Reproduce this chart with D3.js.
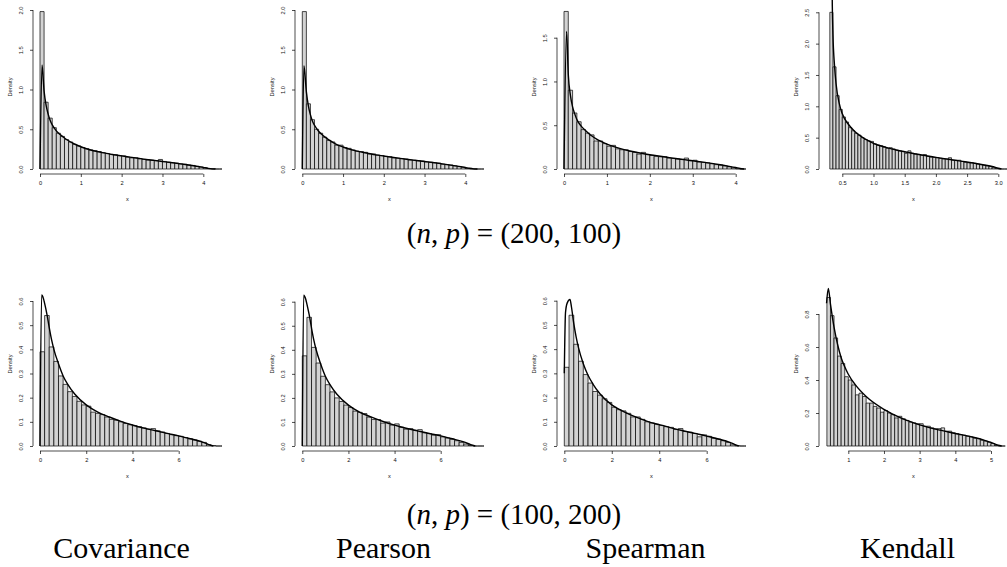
<!DOCTYPE html>
<html>
<head>
<meta charset="utf-8">
<script src="https://cdn.jsdelivr.net/npm/d3@7"></script>
<style>
  body { margin: 0; background: #fff; }
  svg { display: block; }
  .axis text, .axis-title { font-family: "Liberation Sans", Arial, sans-serif; font-size: 5.7px; fill: #111; }
  .title { font-family: "Liberation Serif", "Times New Roman", serif; fill: #000; }
</style>
</head>
<body>
<div id="chart"></div>
<script>
// ---- histogram heights (density) ----
// top row: (n,p) = (200,100)
const covTopStart = 0, covTopWidth = 0.1;
const covTopHeights = [1.98,0.84,0.64,0.52,0.45,0.41,0.37,0.34,0.31,0.29,0.27,0.255,0.24,0.23,0.22,0.205,0.195,0.185,0.18,0.17,
  0.165,0.15,0.14,0.14,0.13,0.12,0.115,0.11,0.105,0.12,0.095,0.085,0.08,0.075,0.065,0.06,0.05,0.045,0.035,0.025,
  0.015,0.005,0.002,0,0];
const covTopCurveX = [0,0.05,0.1,0.15,0.2,0.25,0.3,0.4,0.5,0.6,0.7,0.8,1.0,1.2,1.4,1.6,1.8,2.0,2.2,2.4,2.6,2.8,3.0,3.2,3.4,3.6,3.8,4.0,4.1,4.2,4.3];
const covTopCurveY = [0,1.31,0.98,0.8,0.69,0.61,0.555,0.48,0.43,0.39,0.355,0.325,0.28,0.245,0.22,0.2,0.18,0.165,0.15,0.135,0.12,0.108,0.095,0.082,0.068,0.053,0.037,0.02,0.01,0.002,0];

const pearTopStart = 0, pearTopWidth = 0.1;
const pearTopHeights = [1.98,0.82,0.62,0.50,0.45,0.40,0.36,0.34,0.30,0.30,0.27,0.26,0.24,0.225,0.22,0.21,0.19,0.19,0.175,0.17,
  0.16,0.155,0.14,0.135,0.13,0.125,0.115,0.11,0.105,0.10,0.09,0.085,0.08,0.075,0.06,0.055,0.05,0.04,0.03,0.02,
  0.008,0.003,0,0,0];
const pearTopCurveX = [0,0.04,0.1,0.15,0.2,0.25,0.3,0.4,0.5,0.6,0.7,0.8,1.0,1.2,1.4,1.6,1.8,2.0,2.2,2.4,2.6,2.8,3.0,3.2,3.4,3.6,3.8,4.0,4.1,4.2,4.3];
const pearTopCurveY = [0,1.3,0.97,0.79,0.68,0.6,0.55,0.475,0.425,0.385,0.35,0.32,0.277,0.243,0.218,0.198,0.178,0.163,0.148,0.134,0.12,0.107,0.094,0.081,0.067,0.052,0.036,0.019,0.009,0.002,0];

const spearTopStart = 0, spearTopWidth = 0.1;
const spearTopHeights = [1.80,0.90,0.64,0.54,0.45,0.41,0.39,0.32,0.32,0.29,0.26,0.27,0.23,0.22,0.22,0.20,0.19,0.17,0.19,0.165,
  0.155,0.145,0.14,0.14,0.125,0.12,0.115,0.11,0.125,0.095,0.10,0.08,0.075,0.07,0.06,0.05,0.045,0.035,0.025,0.012,
  0.003,0,0];
const spearTopCurveX = [0,0.06,0.1,0.15,0.2,0.25,0.3,0.4,0.5,0.6,0.7,0.8,1.0,1.2,1.4,1.6,1.8,2.0,2.2,2.4,2.6,2.8,3.0,3.2,3.4,3.6,3.8,4.0,4.1,4.2];
const spearTopCurveY = [0,1.57,1.08,0.84,0.71,0.63,0.565,0.49,0.44,0.395,0.36,0.33,0.285,0.25,0.222,0.2,0.18,0.163,0.148,0.134,0.12,0.107,0.094,0.081,0.067,0.052,0.035,0.017,0.006,0];

const kenTopStart = 0.3, kenTopWidth = 0.05;
const kenTopHeights = [2.50,1.63,1.17,0.95,0.83,0.75,0.66,0.61,0.57,0.54,0.50,0.47,0.45,0.44,0.40,0.38,0.37,0.35,0.33,0.34,
  0.32,0.30,0.29,0.28,0.25,0.29,0.25,0.24,0.23,0.22,0.23,0.20,0.19,0.185,0.18,0.17,0.16,0.155,0.18,0.14,
  0.14,0.14,0.12,0.11,0.10,0.10,0.09,0.08,0.07,0.06,0.05,0.04,0.02,0.008,0.002,0,0];
const kenTopCurveX = [0.33,0.34,0.35,0.375,0.4,0.45,0.5,0.6,0.7,0.8,0.9,1.0,1.2,1.4,1.6,1.8,2.0,2.2,2.4,2.6,2.8,2.9,3.0,3.05];
const kenTopCurveY = [3.6,2.6,2.15,1.65,1.36,1.05,0.88,0.71,0.6,0.52,0.46,0.41,0.345,0.295,0.255,0.22,0.185,0.155,0.125,0.095,0.06,0.04,0.012,0];

// bottom row: (n,p) = (100,200)
const covBotStart = 0, covBotWidth = 0.2;
const covBotHeights = [0.39,0.54,0.41,0.35,0.29,0.255,0.225,0.205,0.185,0.17,0.165,0.14,0.135,0.13,0.12,0.11,0.107,0.10,0.093,0.088,
  0.084,0.08,0.075,0.07,0.072,0.063,0.058,0.052,0.047,0.043,0.04,0.035,0.03,0.025,0.02,0.015,0.005,0.002,0,0];
const covBotCurveX = [0,0.07,0.15,0.2,0.3,0.4,0.5,0.6,0.8,1.0,1.2,1.5,2.0,2.5,3.0,3.5,4.0,4.5,5.0,5.5,6.0,6.5,7.0,7.3,7.5];
const covBotCurveY = [0,0.625,0.61,0.59,0.545,0.49,0.44,0.40,0.34,0.29,0.255,0.215,0.17,0.14,0.12,0.102,0.087,0.074,0.063,0.052,0.042,0.03,0.017,0.006,0];

const pearBotStart = 0, pearBotWidth = 0.2;
const pearBotHeights = [0.375,0.535,0.41,0.345,0.29,0.255,0.225,0.20,0.185,0.17,0.16,0.145,0.14,0.135,0.12,0.11,0.11,0.095,0.10,0.087,
  0.092,0.078,0.07,0.072,0.065,0.068,0.055,0.052,0.045,0.047,0.038,0.033,0.028,0.022,0.015,0.008,0.002,0,0,0];
const pearBotCurveX = [0,0.06,0.15,0.2,0.3,0.4,0.5,0.6,0.8,1.0,1.2,1.5,2.0,2.5,3.0,3.5,4.0,4.5,5.0,5.5,6.0,6.5,7.0,7.3,7.5];
const pearBotCurveY = [0,0.627,0.61,0.59,0.545,0.49,0.44,0.40,0.34,0.29,0.255,0.215,0.17,0.14,0.12,0.102,0.087,0.074,0.063,0.052,0.042,0.03,0.017,0.006,0];

const spearBotStart = 0, spearBotWidth = 0.2;
const spearBotHeights = [0.325,0.54,0.42,0.35,0.295,0.26,0.225,0.21,0.195,0.18,0.16,0.15,0.145,0.135,0.12,0.12,0.11,0.10,0.095,0.09,
  0.085,0.08,0.077,0.068,0.072,0.06,0.057,0.052,0.038,0.046,0.04,0.032,0.028,0.022,0.015,0.005,0.001,0,0];
const spearBotCurveX = [0,0.05,0.12,0.24,0.3,0.4,0.5,0.6,0.8,1.0,1.2,1.5,2.0,2.5,3.0,3.5,4.0,4.5,5.0,5.5,6.0,6.5,7.0,7.2,7.35];
const spearBotCurveY = [0.3,0.55,0.59,0.605,0.575,0.505,0.45,0.405,0.34,0.292,0.257,0.216,0.17,0.142,0.12,0.102,0.088,0.075,0.063,0.052,0.041,0.029,0.014,0.006,0];

const kenBotStart = 0.4, kenBotWidth = 0.1;
const kenBotHeights = [0.90,0.79,0.655,0.545,0.50,0.42,0.40,0.37,0.31,0.32,0.30,0.26,0.26,0.24,0.23,0.205,0.215,0.20,0.19,0.17,
  0.18,0.165,0.155,0.145,0.14,0.135,0.135,0.12,0.12,0.11,0.105,0.105,0.11,0.09,0.09,0.08,0.075,0.068,0.065,0.06,
  0.055,0.048,0.045,0.035,0.03,0.022,0.015,0.003,0,0];
const kenBotCurveX = [0.39,0.44,0.5,0.6,0.7,0.8,0.9,1.0,1.2,1.5,2.0,2.5,3.0,3.5,4.0,4.5,4.8,5.0,5.2,5.3];
const kenBotCurveY = [0.865,0.955,0.86,0.72,0.615,0.535,0.48,0.435,0.37,0.30,0.222,0.167,0.128,0.099,0.076,0.053,0.036,0.022,0.005,0];

// ---- tick values ----
const xTicks04 = [0,1,2,3,4];
const xTicksKenTop = [0.5,1,1.5,2,2.5,3];
const xTicks06 = [0,2,4,6];
const xTicksKenBot = [1,2,3,4,5];
const yTicks20 = [0,0.5,1,1.5,2];
const yTicks15 = [0,0.5,1,1.5];
const yTicks25 = [0,0.5,1,1.5,2,2.5];
const yTicks06 = [0,0.1,0.2,0.3,0.4,0.5,0.6];
const yTicks08 = [0,0.2,0.4,0.6,0.8];

const methods = ["Covariance", "Pearson", "Spearman", "Kendall"];
const rowTitles = ["(200, 100)", "(100, 200)"];

// ---- layout ----
const W = 1007, H = 567;
const PANEL_DX = 262, ROW_DY = 277;
const plotL = 33, plotR = 222, plotT = 0, plotB = 174;

const fmt0 = d3.format("d"), fmt1 = d3.format(".1f");

// scale anchors: [[v0, v1], [px0, px1]] (px relative to panel)
const panels = [
  { start: covTopStart, width: covTopWidth, heights: covTopHeights, cx: covTopCurveX, cy: covTopCurveY,
    xTicks: xTicks04, xFmt: fmt0, yTicks: yTicks20, xs: [[0,4],[40,203.3]], ys: [[0,2],[169,10]] },
  { start: pearTopStart, width: pearTopWidth, heights: pearTopHeights, cx: pearTopCurveX, cy: pearTopCurveY,
    xTicks: xTicks04, xFmt: fmt0, yTicks: yTicks20, xs: [[0,4],[40.3,203.3]], ys: [[0,2],[169,10]] },
  { start: spearTopStart, width: spearTopWidth, heights: spearTopHeights, cx: spearTopCurveX, cy: spearTopCurveY,
    xTicks: xTicks04, xFmt: fmt0, yTicks: yTicks15, xs: [[0,4],[40,211.7]], ys: [[0,1.5],[169,37.7]] },
  { start: kenTopStart, width: kenTopWidth, heights: kenTopHeights, cx: kenTopCurveX, cy: kenTopCurveY,
    xTicks: xTicksKenTop, xFmt: fmt1, yTicks: yTicks25, xs: [[0.5,3],[56.3,212.3]], ys: [[0,2.5],[169,12.3]] },
  { start: covBotStart, width: covBotWidth, heights: covBotHeights, cx: covBotCurveX, cy: covBotCurveY,
    xTicks: xTicks06, xFmt: fmt0, yTicks: yTicks06, xs: [[0,6],[40,178.7]], ys: [[0,0.6],[169,24]] },
  { start: pearBotStart, width: pearBotWidth, heights: pearBotHeights, cx: pearBotCurveX, cy: pearBotCurveY,
    xTicks: xTicks06, xFmt: fmt0, yTicks: yTicks06, xs: [[0,6],[40.3,178.7]], ys: [[0,0.6],[169,24.7]] },
  { start: spearBotStart, width: spearBotWidth, heights: spearBotHeights, cx: spearBotCurveX, cy: spearBotCurveY,
    xTicks: xTicks06, xFmt: fmt0, yTicks: yTicks06, xs: [[0,6],[40.3,182.7]], ys: [[0,0.6],[169,23.7]] },
  { start: kenBotStart, width: kenBotWidth, heights: kenBotHeights, cx: kenBotCurveX, cy: kenBotCurveY,
    xTicks: xTicksKenBot, xFmt: fmt0, yTicks: yTicks08, xs: [[1,5],[62.3,205]], ys: [[0,0.8],[169,37]] }
];

const svg = d3.select("#chart").append("svg")
  .attr("width", W).attr("height", H)
  .attr("viewBox", [0, 0, W, H])
  .style("background", "#fff");

panels.forEach((p, i) => {
  const col = i % 4, row = Math.floor(i / 4);
  const g = svg.append("g").attr("transform", `translate(${col * PANEL_DX},${row * ROW_DY})`);

  const x = d3.scaleLinear().domain(p.xs[0]).range(p.xs[1]);
  const y = d3.scaleLinear().domain(p.ys[0]).range(p.ys[1]);

  const clipId = `clip-${i}`;
  g.append("clipPath").attr("id", clipId)
    .append("rect").attr("x", plotL).attr("y", plotT - 5)
    .attr("width", plotR - plotL).attr("height", plotB - plotT + 5);

  const bins = p.heights.map((h, j) => ({
    x0: p.start + j * p.width,
    x1: p.start + (j + 1) * p.width,
    h
  }));

  const plot = g.append("g").attr("clip-path", `url(#${clipId})`);

  // bars as paths so zero-height bins still show their outline
  plot.append("g").selectAll("path").data(bins).join("path")
    .attr("d", d => `M${x(d.x0)},${y(0)}V${y(d.h)}H${x(d.x1)}V${y(0)}Z`)
    .attr("fill", "#d3d3d3")
    .attr("stroke", "#000")
    .attr("stroke-width", 0.7);

  const line = d3.line().curve(d3.curveMonotoneX).x(d => x(d[0])).y(d => y(d[1]));
  plot.append("path")
    .datum(d3.zip(p.cx, p.cy))
    .attr("d", line)
    .attr("fill", "none")
    .attr("stroke", "#000")
    .attr("stroke-width", 1.4);

  // x axis
  const xa = g.append("g").attr("class", "axis")
    .attr("transform", `translate(0,${plotB})`)
    .call(d3.axisBottom(x).tickValues(p.xTicks).tickFormat(p.xFmt).tickSize(3).tickPadding(4));
  xa.attr("font-size", null).attr("font-family", null);
  xa.select(".domain").remove();
  xa.selectAll(".tick line").attr("stroke-width", 0.7);
  xa.append("line")
    .attr("x1", x(p.xTicks[0])).attr("x2", x(p.xTicks[p.xTicks.length - 1]))
    .attr("stroke", "#000").attr("stroke-width", 0.7);

  // y axis
  const ya = g.append("g").attr("class", "axis")
    .attr("transform", `translate(${plotL},0)`)
    .call(d3.axisLeft(y).tickValues(p.yTicks).tickFormat(fmt1).tickSize(3));
  ya.attr("font-size", null).attr("font-family", null);
  ya.select(".domain").remove();
  ya.selectAll(".tick line").attr("stroke-width", 0.7);
  ya.selectAll(".tick text")
    .attr("transform", "rotate(-90)")
    .attr("x", 0).attr("y", -9.6).attr("dy", 0)
    .attr("text-anchor", "middle");
  ya.append("line")
    .attr("y1", y(p.yTicks[0])).attr("y2", y(p.yTicks[p.yTicks.length - 1]))
    .attr("stroke", "#000").attr("stroke-width", 0.7);

  g.append("text").attr("class", "axis-title")
    .attr("x", (plotL + plotR) / 2).attr("y", 200.5)
    .attr("text-anchor", "middle").text("x");

  g.append("text").attr("class", "axis-title")
    .attr("transform", `translate(12,${(plotT + plotB) / 2}) rotate(-90)`)
    .attr("text-anchor", "middle").text("Density");
});

// row titles
rowTitles.forEach((t, r) => {
  const txt = svg.append("text").attr("class", "title")
    .attr("x", 514).attr("y", 243 + r * 281)
    .attr("text-anchor", "middle").attr("font-size", 29);
  txt.append("tspan").text("(");
  txt.append("tspan").attr("font-style", "italic").text("n");
  txt.append("tspan").text(", ");
  txt.append("tspan").attr("font-style", "italic").text("p");
  txt.append("tspan").text(") = " + t);
});

// method labels
svg.append("g").selectAll("text").data(methods).join("text")
  .attr("class", "title")
  .attr("x", (d, i) => 121.5 + i * PANEL_DX)
  .attr("y", 558)
  .attr("text-anchor", "middle")
  .attr("font-size", 30)
  .text(d => d);
</script>
</body>
</html>
